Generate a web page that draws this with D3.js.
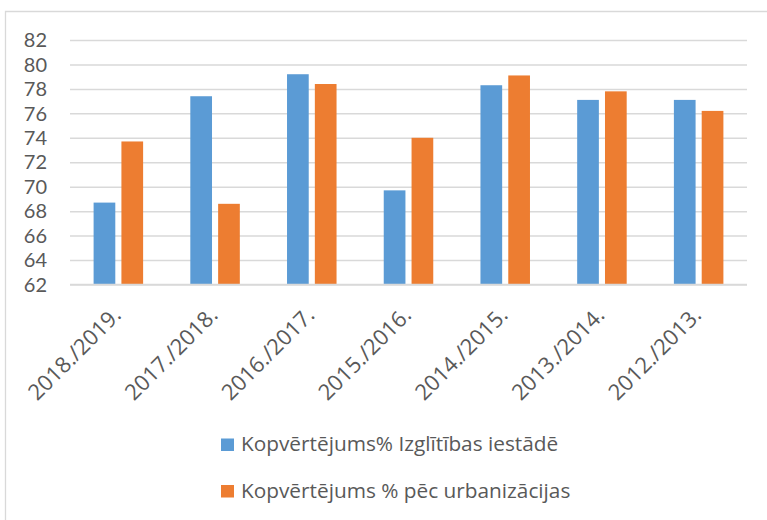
<!DOCTYPE html>
<html>
<head>
<meta charset="utf-8">
<script src="https://cdn.jsdelivr.net/npm/d3@7"></script>
<style>
  body { margin: 0; background: #fff; }
  svg { display: block; font-family: "Open Sans", sans-serif; }
</style>
</head>
<body>
<script>
// dati no attēla
var categories = ["2018./2019.", "2017./2018.", "2016./2017.", "2015./2016.", "2014./2015.", "2013./2014.", "2012./2013."];
var seriesNames = ["Kopvērtējums% Izglītības iestādē", "Kopvērtējums % pēc urbanizācijas"];
var valuesSchool = [68.7, 77.4, 79.2, 69.7, 78.3, 77.1, 77.1];
var valuesUrban = [73.7, 68.6, 78.4, 74.0, 79.1, 77.8, 76.2];
var yTicks = [62, 64, 66, 68, 70, 72, 74, 76, 78, 80, 82];
var colors = ["#5B9BD5", "#ED7D31"];

var width = 767, height = 520;
var margin = {top: 40, right: 20, left: 70};
var axisY = 284.5;

var svg = d3.select("body").append("svg")
	.attr("width", width)
	.attr("height", height);

// rāmis (redzama tikai augšējā un kreisā mala)
svg.append("path")
	.attr("d", "M5.5,520V11.5H767")
	.attr("fill", "none")
	.attr("stroke", "#d9d9d9")
	.attr("stroke-width", 1.3);

var x0 = d3.scaleBand()
	.domain(categories)
	.range([margin.left, width - margin.right])
	.padding(0);

var x1 = d3.scaleBand()
	.domain([0, 1])
	.range([23.6, x0.bandwidth() - 23.6])
	.paddingInner(0.22);

var y = d3.scaleLinear()
	.domain([62, 82])
	.range([axisY, margin.top]);

// režģis
svg.append("g")
	.attr("transform", "translate(" + margin.left + ",0)")
	.call(d3.axisLeft(y)
		.tickValues(yTicks)
		.tickSize(-(width - margin.right - margin.left))
		.tickFormat(function(){return "";}))
	.call(function(g) {
		g.select(".domain").remove();
		g.selectAll(".tick line").attr("stroke", "#d9d9d9").attr("stroke-width", 1.5);
	});

// y ass teksti
svg.append("g")
	.selectAll("text")
	.data(yTicks)
	.join("text")
	.attr("x", 47)
	.attr("y", function(d) { return y(d); })
	.attr("dy", "0.36em")
	.attr("text-anchor", "end")
	.attr("font-family", "Lato, sans-serif")
	.attr("font-size", 20)
	.attr("fill", "#595959")
	.text(function(d) { return d; });

// stabiņi
var rows = categories.map(function(c, i) { return {cat: c, vals: [valuesSchool[i], valuesUrban[i]]}; });

var groups = svg.append("g")
	.selectAll("g")
	.data(rows)
	.join("g")
	.attr("transform", function(d) { return "translate(" + x0(d.cat) + ",0)"; });

groups.selectAll("rect")
	.data(function(d) { return d.vals.map(function(v, k) { return {k: k, v: v}; }); })
	.join("rect")
	.attr("x", function(d) { return x1(d.k); })
	.attr("y", function(d) { return y(d.v); })
	.attr("width", x1.bandwidth())
	.attr("height", function(d) { return axisY - y(d.v); })
	.attr("fill", function(d) { return colors[d.k]; });

// x ass
svg.append("line")
	.attr("x1", margin.left)
	.attr("x2", width - margin.right)
	.attr("y1", axisY)
	.attr("y2", axisY)
	.attr("stroke", "#d9d9d9")
	.attr("stroke-width", 1.5);

svg.append("g")
	.selectAll("text")
	.data(categories)
	.join("text")
	.attr("transform", function(d) {
		return "translate(" + (x0(d) + x0.bandwidth() / 2 + 4) + "," + (axisY + 32) + ") rotate(-45)";
	})
	.attr("text-anchor", "end")
	.attr("font-size", 22)
	.attr("fill", "#595959")
	.text(function(d) { return d; });

// leģenda
var legend = svg.append("g")
	.selectAll("g")
	.data(seriesNames)
	.join("g")
	.attr("transform", function(d, i) { return "translate(221," + (438.5 + i * 46.5) + ")"; });

legend.append("rect")
	.attr("width", 13)
	.attr("height", 12.5)
	.attr("fill", function(d, i) { return colors[i]; });

legend.append("text")
	.attr("x", 20)
	.attr("y", 12.8)
	.attr("font-size", 20.8)
	.attr("fill", "#595959")
	.text(function(d) { return d; });
</script>
</body>
</html>
